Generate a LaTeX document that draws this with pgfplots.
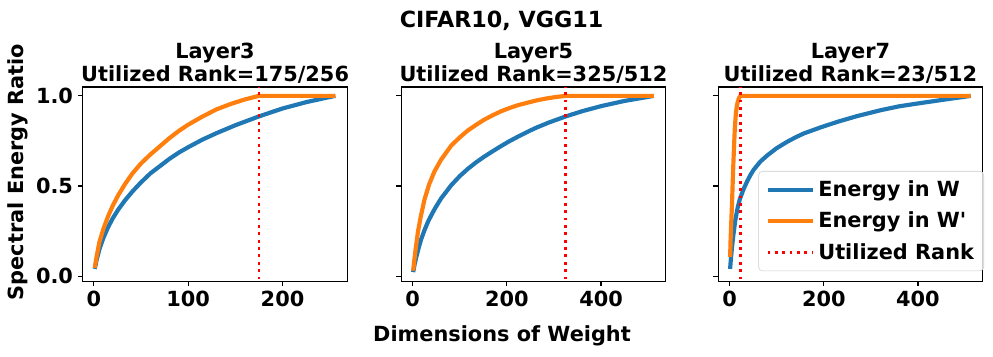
\documentclass[border=0pt]{standalone}
\usepackage{fontspec}
\setmainfont{DejaVu Sans}[Ligatures=TeXOff]
\usepackage{pgfplots}
\pgfplotsset{compat=1.18}

\definecolor{tabblue}{HTML}{1F77B4}
\definecolor{taborange}{HTML}{FF7F0E}

\pgfplotsset{
  panel/.style={
    scale only axis, width=190.3pt, height=139.7pt,
    ymin=-0.029, ymax=1.049,
    ytick={0,0.5,1},
    tick align=outside, major tick length=3.5pt,
    tick pos=left,
    axis line style={line width=0.8pt},
    every tick/.style={black, line width=0.8pt},
    /pgf/number format/assume math mode=true,
    ticklabel style={font=\bfseries\fontsize{15}{18}\selectfont},
    every axis title shift=0pt,
    title style={font=\bfseries\fontsize{15}{16.5}\selectfont, align=center,
      at={(0.5,1)}, anchor=south, yshift=-0.7pt},
  },
  wline/.style={tabblue, line width=3pt, line join=round},
  wpline/.style={taborange, line width=3pt, line join=round},
  rline/.style={red, line width=2pt, dash pattern=on 2pt off 3.3pt},
}

\begin{document}
\begin{tikzpicture}
\path[use as bounding box] (-59.5pt,-54pt) rectangle (654.6pt,202.3pt);

% Layer3
\begin{axis}[panel, at={(0pt,0pt)},
  xmin=-11.75, xmax=268.75, xtick={0,100,200},
  yticklabels={0.0,0.5,1.0},
  title={Layer3\\Utilized Rank=175/256}]
\addplot[wline] coordinates {
(1,0.04) (3,0.09) (6,0.15) (10,0.21) (15,0.27) (20,0.32) (26,0.37) (33,0.42)
(41,0.47) (50,0.52) (60,0.57) (70,0.61) (80,0.65) (90,0.685) (100,0.715)
(115,0.757) (130,0.793) (150,0.837) (175,0.886) (200,0.93) (225,0.965)
(245,0.988) (256,1.0)};
\addplot[wpline] coordinates {
(1,0.045) (3,0.11) (6,0.19) (10,0.26) (15,0.33) (20,0.39) (26,0.45) (33,0.51)
(41,0.57) (50,0.625) (60,0.675) (70,0.72) (80,0.765) (90,0.805) (100,0.84)
(115,0.885) (130,0.925) (145,0.955) (160,0.98) (175,1.0) (256,1.0)};
\addplot[rline] coordinates {(175,-0.1) (175,1.1)};
\end{axis}

% Layer5
\begin{axis}[panel, at={(229pt,0pt)},
  xmin=-24.55, xmax=537.55, xtick={0,200,400},
  yticklabels={},
  title={Layer5\\Utilized Rank=325/512}]
\addplot[wline] coordinates {
(1,0.022) (4,0.065) (8,0.11) (13,0.16) (18,0.205) (25,0.255) (33,0.305)
(46,0.37) (60,0.43) (82,0.505) (100,0.555) (117,0.595) (135,0.632) (152,0.663)
(170,0.693) (188,0.722) (205,0.748) (223,0.773) (245,0.802) (262,0.823)
(290,0.853) (325,0.886) (360,0.915) (400,0.943) (450,0.972) (490,0.99) (512,1.0)};
\addplot[wpline] coordinates {
(1,0.03) (3,0.08) (6,0.145) (11,0.245) (17,0.33) (25,0.425) (35,0.51) (46,0.58)
(60,0.645) (82,0.725) (100,0.77) (117,0.808) (135,0.84) (152,0.868) (170,0.893)
(188,0.915) (205,0.932) (223,0.948) (245,0.963) (265,0.976) (285,0.986)
(305,0.994) (325,1.0) (512,1.0)};
\addplot[rline] coordinates {(325,-0.1) (325,1.1)};
\end{axis}

% Layer7
\begin{axis}[panel, at={(456.9pt,0pt)},
  xmin=-24.55, xmax=537.55, xtick={0,200,400},
  yticklabels={},
  title={Layer7\\Utilized Rank=23/512},
  legend style={at={(1.005,0.052)}, anchor=south east,
    font=\bfseries\fontsize{15}{18}\selectfont,
    draw=black!20, rounded corners=3pt, fill=white, fill opacity=0.8,
    text opacity=1, row sep=5.5pt, inner sep=5pt},
  legend cell align=left,
  legend image code/.code={\draw[#1] (0pt,0pt) -- (33pt,0pt);}]
\addplot[wline] coordinates {
(1,0.04) (2,0.075) (3,0.105) (5,0.16) (8,0.23) (12,0.31) (17,0.38) (22,0.43)
(30,0.485) (37,0.525) (44,0.56) (51,0.59) (65,0.635) (80,0.67) (100,0.71)
(122,0.745) (140,0.77) (158,0.792) (193,0.825) (229,0.856) (271,0.888)
(320,0.92) (360,0.942) (400,0.958) (450,0.977) (512,1.0)};
\addlegendentry{Energy in W}
\addplot[wpline] coordinates {
(1,0.106) (2,0.2) (3,0.27) (5,0.40) (7,0.56) (9,0.70) (11,0.82) (13,0.895)
(15,0.94) (17,0.965) (19,0.982) (21,0.994) (23,1.0) (512,1.0)};
\addlegendentry{Energy in W'}
\addplot[rline] coordinates {(23,-0.1) (23,1.1)};
\addlegendentry{Utilized Rank}
\end{axis}

\node[font=\bfseries\fontsize{16}{19}\selectfont] at (301.2pt,187.2pt) {CIFAR10, VGG11};
\node[rotate=90, font=\bfseries\fontsize{15}{18}\selectfont] at (-46.6pt,78.5pt) {Spectral Energy Ratio};
\node[font=\bfseries\fontsize{15}{18}\selectfont] at (301.5pt,-38.9pt) {Dimensions of Weight};
\end{tikzpicture}
\end{document}
